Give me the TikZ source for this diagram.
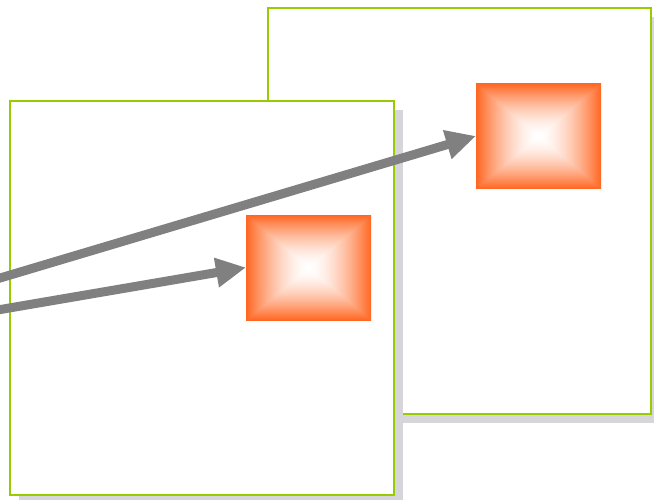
\documentclass[tikz,border=0pt]{standalone}
\usepackage{tikz}
\usetikzlibrary{arrows.meta,shadows}

\definecolor{framegreen}{RGB}{153,204,0}
\definecolor{shadowgray}{RGB}{213,213,218}
\definecolor{arrowgray}{RGB}{128,128,128}

% white in the middle, orange towards the edges
\pgfdeclarefunctionalshading{boxglow}{\pgfpoint{-50bp}{-50bp}}{\pgfpoint{50bp}{50bp}}{}{
  abs exch abs 2 copy lt {exch} if pop 25 div
  dup 1 gt {pop 1} if
  1.6 exp
  1 exch dup 0.6 mul 1 exch sub exch 0.87 mul 1 exch sub
}

\begin{document}
\begin{tikzpicture}[x=1pt, y=-1pt,
  frame/.style={draw=framegreen, line width=2.6pt, fill=white, inner sep=0pt, outer sep=0pt,
    drop shadow={shadow xshift=9pt, shadow yshift=-9pt, fill=shadowgray, opacity=1}},
  glowbox/.style={shading=boxglow, inner sep=0pt, outer sep=0pt,
    minimum width=125pt, minimum height=105pt},
  pointer/.style={draw=arrowgray, line width=9pt, -{Triangle[length=30pt, width=28pt]}}]

\useasboundingbox (0,0) rectangle (654,499);

\node [frame, minimum width=383pt, minimum height=406pt] (back) at (459.5,211) {};
\node [glowbox] (backbox) at (538.5,136) {};

\node [frame, minimum width=384pt, minimum height=394pt] (front) at (202,298) {};
\node [glowbox] (frontbox) at (308.5,267.5) {};

\coordinate (upstart) at (-20,284);
\coordinate (lowstart) at (-20,313);

\draw[pointer] (upstart) to (backbox.west);
\draw[pointer] (lowstart) to (frontbox.west);

\end{tikzpicture}
\end{document}
